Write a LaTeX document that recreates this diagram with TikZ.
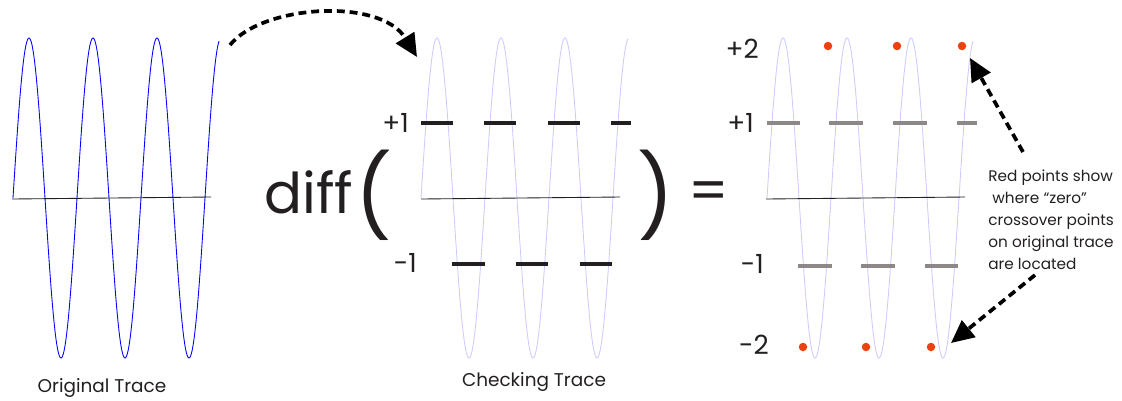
\documentclass[tikz,border=0pt]{standalone}
\usepackage{fontspec}
\setmainfont{Poppins}
\usetikzlibrary{arrows.meta,positioning}

\definecolor{inkdark}{RGB}{35,31,32}
\definecolor{levelgray}{RGB}{140,136,136}
\definecolor{crossred}{RGB}{236,66,16}

\begin{document}
\begin{tikzpicture}[
    x=0.02cm, y=-0.02cm,
    trace/.style={blue, line width=0.5pt},
    trace-faint/.style={blue!20, line width=0.5pt},
    axisline/.style={inkdark, line width=0.5pt},
    level/.style={inkdark, line width=2.8pt},
    level-gray/.style={levelgray, line width=2.8pt},
    crossdot/.style={circle, fill=crossred, inner sep=0pt, minimum size=0.17cm},
    hop/.style={line width=2.1pt, dash pattern=on 4.5pt off 2.8pt, -{Triangle[length=13pt, width=12pt]}},
    label/.style={font=\fontsize{15}{17}\selectfont, text=inkdark, inner sep=1pt},
    caption/.style={font=\fontsize{10.5}{12}\selectfont, text=inkdark},
    big/.style={font=\fontsize{32}{36}\selectfont, text=inkdark, inner sep=0pt},
    paren/.style={font=\fontsize{46}{50}\selectfont, text=inkdark, inner sep=0pt}
]
    \useasboundingbox (0,0) rectangle (1122,400);

    % Original trace
    \draw[trace] plot[domain=0:206, samples=240] ({13+\x},{198-160*sin(\x*5.625)});
    \draw[axisline] (12,199) -- (211,197);
    \node[caption] (orig) at (102,388) {Original Trace};

    % Checking trace
    \draw[trace-faint] plot[domain=0:207, samples=240] ({421+\x},{198-160*sin(\x*5.625)});
    \draw[axisline] (421,199) -- (620,197);
    \foreach \a/\b in {421/453, 484/516, 548/580, 611/631}
        \draw[level] (\a,123) -- (\b,123);
    \foreach \a/\b in {452/485, 516/548, 580/612}
        \draw[level] (\a,264) -- (\b,264);
    \node[label, anchor=east] (chkp1) at (411,123) {+1};
    \node[label, anchor=east] (chkm1) at (419,263) {-1};
    \node[caption] (chk) at (534,382) {Checking Trace};

    % diff( ... ) =
    \node[big] (diff) at (309,192) {diff};
    \node[paren] (lpar) at (374,195) {(};
    \node[paren] (rpar) at (656,195) {)};
    \node[big] (eq) at (709,196) {=};

    % Result trace
    \draw[trace-faint] plot[domain=0:206, samples=240] ({767+\x},{198-160*sin(\x*5.625)});
    \draw[axisline] (766,199) -- (965,197);
    \foreach \a/\b in {767/800, 829/863, 893/927, 957/977}
        \draw[level-gray] (\a,123) -- (\b,123);
    \foreach \a/\b in {798/832, 861/895, 925/958}
        \draw[level-gray] (\a,266) -- (\b,266);
    \node[label, anchor=east] (resp2) at (761,49) {+2};
    \node[label, anchor=east] (resp1) at (756,123) {+1};
    \node[label, anchor=east] (resm1) at (766,264) {-1};
    \node[label, anchor=east] (resm2) at (771,345) {-2};

    % Zero crossings
    \node[crossdot] (up1) at (828,46) {};
    \node[crossdot] (up2) at (897,46) {};
    \node[crossdot] (up3) at (962,46) {};
    \node[crossdot] (dn1) at (803,347) {};
    \node[crossdot] (dn2) at (866,347) {};
    \node[crossdot] (dn3) at (931,347) {};

    % Note
    \node[font=\fontsize{8.7}{12.5}\selectfont, text=inkdark, align=left, anchor=north west, inner sep=0pt] (note) at (988,170)
        {Red points show\\ \ where “zero”\\crossover points\\on original trace\\are located};

    % Arrows
    \coordinate (origtop) at (230,45);
    \coordinate (chktop) at (417,57);
    \coordinate (noteup) at (1023,152);
    \coordinate (tipup) at (970,58);
    \coordinate (notedn) at (1035,275);
    \coordinate (tipdn) at (951,343);
    \draw[hop] (origtop) .. controls (262,5) and (380,-3) .. (chktop);
    \draw[hop] (noteup) -- (tipup);
    \draw[hop] (notedn) -- (tipdn);

\end{tikzpicture}
\end{document}
